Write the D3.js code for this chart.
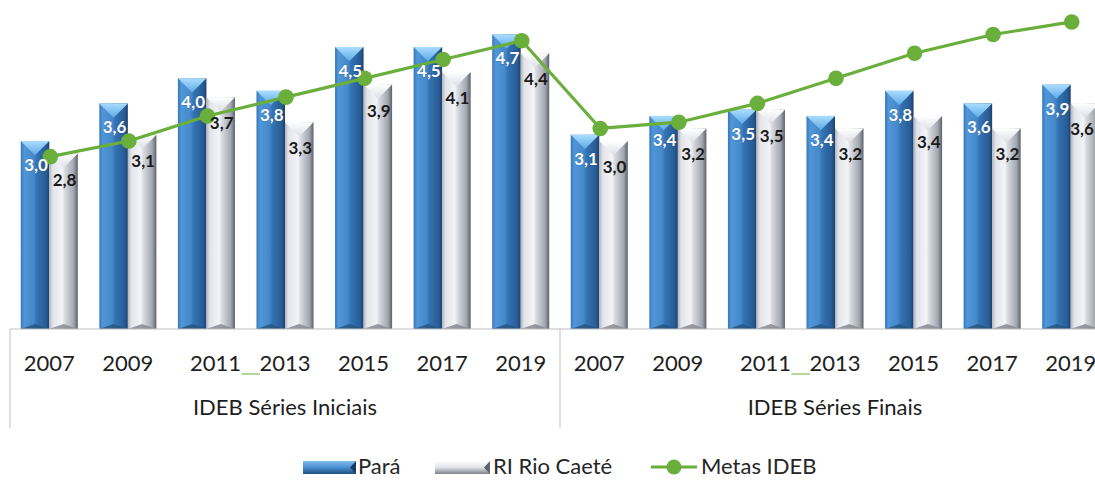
<!DOCTYPE html>
<html>
<head>
<meta charset="utf-8">
<script src="https://cdn.jsdelivr.net/npm/d3@7"></script>
<style>
  html, body { margin: 0; padding: 0; background: #fff; }
  svg { display: block; }
  text { font-family: Lato, "Open Sans", sans-serif; }
</style>
</head>
<body>
<svg id="chart" width="1095" height="480"></svg>
<script>
// ---------- DATA ----------
const years = ["2007", "2009", "2011", "2013", "2015", "2017", "2019"];
const groups = ["IDEB Séries Iniciais", "IDEB Séries Finais"];
const para = [3.0, 3.6, 4.0, 3.8, 4.5, 4.5, 4.7, 3.1, 3.4, 3.5, 3.4, 3.8, 3.6, 3.9];
const rioCaete = [2.8, 3.1, 3.7, 3.3, 3.9, 4.1, 4.4, 3.0, 3.2, 3.5, 3.2, 3.4, 3.2, 3.6];
const metas = [2.75, 3.0, 3.4, 3.7, 4.0, 4.3, 4.6, 3.2, 3.3, 3.6, 4.0, 4.4, 4.7, 4.9];
const seriesNames = ["Pará", "RI Rio Caeté", "Metas IDEB"];

// ---------- SETUP ----------
const svg = d3.select("#chart");
const W = 1095;
const plotLeft = 10, plotRight = 1110, baseY = 329, topY = 0;

const cats = [];
groups.forEach((g, gi) => years.forEach((y, yi) => cats.push({ key: gi + "-" + y, year: y, group: gi, i: gi * years.length + yi })));

const x0 = d3.scaleBand().domain(cats.map(c => c.key)).range([plotLeft, plotRight])
  .paddingInner(0.274).paddingOuter(0.137);
const x1 = d3.scaleBand().domain(["para", "rio"]).range([0, x0.bandwidth()]);
const y = d3.scaleLinear().domain([0, 5.25]).range([baseY, topY]);

const fmt = v => d3.format(".1f")(v).replace(".", ",");

// ---------- GRADIENTS ----------
const defs = svg.append("defs");
function hGrad(id, stops) {
  const g = defs.append("linearGradient").attr("id", id).attr("x1", "0").attr("x2", "1").attr("y1", "0").attr("y2", "0");
  stops.forEach(s => g.append("stop").attr("offset", s[0]).attr("stop-color", s[1]));
}
function vGrad(id, stops) {
  const g = defs.append("linearGradient").attr("id", id).attr("x1", "0").attr("x2", "0").attr("y1", "0").attr("y2", "1");
  stops.forEach(s => g.append("stop").attr("offset", s[0]).attr("stop-color", s[1]));
}
hGrad("blueBody", [["0", "#3676ba"], ["0.12", "#5196d8"], ["0.45", "#4589cb"], ["0.55", "#3473b4"], ["0.88", "#285c95"], ["1", "#1a426e"]]);
vGrad("blueTop", [["0", "#a9ddff"], ["1", "#5fa9e6"]]);
hGrad("grayBody", [["0", "#b0b4bc"], ["0.12", "#e2e4ea"], ["0.45", "#f3f4f7"], ["0.55", "#d6d9df"], ["0.85", "#a3a7af"], ["1", "#5d6169"]]);
vGrad("grayTop", [["0", "#ffffff"], ["1", "#dcdfe5"]]);
vGrad("blueLeg", [["0", "#7fbdf0"], ["0.5", "#4a8ed0"], ["1", "#1f4f80"]]);
vGrad("grayLeg", [["0", "#ffffff"], ["0.5", "#e0e2e8"], ["1", "#7d8189"]]);

const styles = {
  para: { body: "url(#blueBody)", top: "url(#blueTop)", bottom: "#25567f" },
  rio: { body: "url(#grayBody)", top: "url(#grayTop)", bottom: "#868a92" }
};

// ---------- BARS ----------
function drawBar(g, bx, bw, yt, yb, st) {
  g.append("rect").attr("x", bx).attr("y", yt).attr("width", bw).attr("height", yb - yt).attr("fill", st.body);
  const d = bw * 0.5;
  g.append("polygon")
    .attr("points", [[bx, yt], [bx + bw, yt], [bx + bw / 2, yt + d]].map(p => p.join(",")).join(" "))
    .attr("fill", st.top);
  g.append("polygon")
    .attr("points", [[bx, yb], [bx + bw, yb], [bx + bw / 2, yb - d * 0.35]].map(p => p.join(",")).join(" "))
    .attr("fill", st.bottom).attr("opacity", 0.85);
}

const barLayer = svg.append("g");
cats.forEach(c => {
  const gx = x0(c.key);
  const g = barLayer.append("g");
  drawBar(g, gx + x1("para"), x1.bandwidth(), y(para[c.i]), y(0), styles.para);
  drawBar(g, gx + x1("rio"), x1.bandwidth(), y(rioCaete[c.i]), y(0), styles.rio);
});

// ---------- CATEGORY AXIS (multi-level) ----------
const axisG = svg.append("g");
axisG.append("line").attr("x1", plotLeft).attr("x2", plotRight).attr("y1", baseY).attr("y2", baseY)
  .attr("stroke", "#bfbfbf").attr("stroke-width", 1);
[0, 1, 2].forEach(k => {
  const xx = plotLeft + k * years.length * x0.step();
  axisG.append("line").attr("x1", xx).attr("x2", xx).attr("y1", baseY).attr("y2", 428)
    .attr("stroke", "#bfbfbf").attr("stroke-width", 1);
});
const yearShift = { "2011": 9 };
const catCenter = c => x0(c.key) + x0.bandwidth() / 2;
axisG.selectAll("text.year").data(cats).join("text")
  .attr("class", "year")
  .attr("x", c => catCenter(c) + (yearShift[c.year] || 0))
  .attr("y", 371)
  .attr("text-anchor", "middle")
  .attr("font-size", 22)
  .attr("fill", "#1e1e1e")
  .text(c => c.year);
// small green underscores between 2011 and 2013 (as in the source image)
[0, 1].forEach(gi => {
  const a = x0(gi + "-2011") + x0.bandwidth() / 2 + yearShift["2011"] + 26;
  const b = x0(gi + "-2013") + x0.bandwidth() / 2 - 25;
  axisG.append("line").attr("x1", a).attr("x2", b).attr("y1", 374).attr("y2", 374)
    .attr("stroke", "#9ccc7a").attr("stroke-width", 1.5);
});
groups.forEach((gname, gi) => {
  const a = plotLeft + gi * years.length * x0.step();
  const b = a + years.length * x0.step();
  axisG.append("text")
    .attr("x", (a + b) / 2).attr("y", 415)
    .attr("text-anchor", "middle").attr("font-size", 22).attr("fill", "#1e1e1e")
    .text(gname);
});

// ---------- METAS LINE ----------
const lineColor = "#6aae3c";
const lineGen = d3.line().x((v, i) => catCenter(cats[i]) + 1).y(v => y(v));
svg.append("path").datum(metas).attr("d", lineGen)
  .attr("fill", "none").attr("stroke", lineColor).attr("stroke-width", 3.2).attr("stroke-linejoin", "round");
svg.append("g").selectAll("circle").data(metas).join("circle")
  .attr("cx", (v, i) => catCenter(cats[i]) + 1)
  .attr("cy", v => y(v))
  .attr("r", 7.8)
  .attr("fill", lineColor);

// ---------- DATA LABELS ----------
const lblG = svg.append("g").attr("font-weight", "bold").attr("font-size", 17).attr("text-anchor", "middle");
function keepInside(sel) {
  const node = sel.node();
  const bb = node.getBBox();
  const over = bb.x + bb.width - (W - 1);
  if (over > 0) sel.attr("x", +sel.attr("x") - over);
}
cats.forEach(c => {
  const gx = x0(c.key);
  keepInside(lblG.append("text")
    .attr("x", gx + x1("para") + x1.bandwidth() / 2 + 1)
    .attr("y", y(para[c.i]) + 30)
    .attr("fill", "#ffffff")
    .attr("stroke", "rgba(20,60,100,0.35)").attr("stroke-width", 0.8).attr("paint-order", "stroke")
    .text(fmt(para[c.i])));
  keepInside(lblG.append("text")
    .attr("x", gx + x1("rio") + x1.bandwidth() / 2 + 1)
    .attr("y", y(rioCaete[c.i]) + 32)
    .attr("fill", "#1a1a1a")
    .text(fmt(rioCaete[c.i])));
});

// ---------- LEGEND ----------
const leg = svg.append("g").attr("font-size", 22).attr("fill", "#262626");
function legBar(xs, w, fill, tipFill) {
  leg.append("rect").attr("x", xs).attr("y", 461).attr("width", w).attr("height", 13).attr("fill", fill);
  leg.append("polygon")
    .attr("points", [[xs + w, 461], [xs + w, 474], [xs + w - 6, 467.5]].map(p => p.join(",")).join(" "))
    .attr("fill", tipFill);
}
legBar(303, 53, "url(#blueLeg)", "#153d66");
leg.append("text").attr("x", 358).attr("y", 474).text(seriesNames[0]);
legBar(435, 55, "url(#grayLeg)", "#60646c");
leg.append("text").attr("x", 493).attr("y", 474).text(seriesNames[1]);
leg.append("line").attr("x1", 651).attr("x2", 697).attr("y1", 467).attr("y2", 467)
  .attr("stroke", lineColor).attr("stroke-width", 3.2);
leg.append("circle").attr("cx", 674).attr("cy", 467).attr("r", 7.5).attr("fill", lineColor);
leg.append("text").attr("x", 701).attr("y", 474).text(seriesNames[2]);
</script>
</body>
</html>
